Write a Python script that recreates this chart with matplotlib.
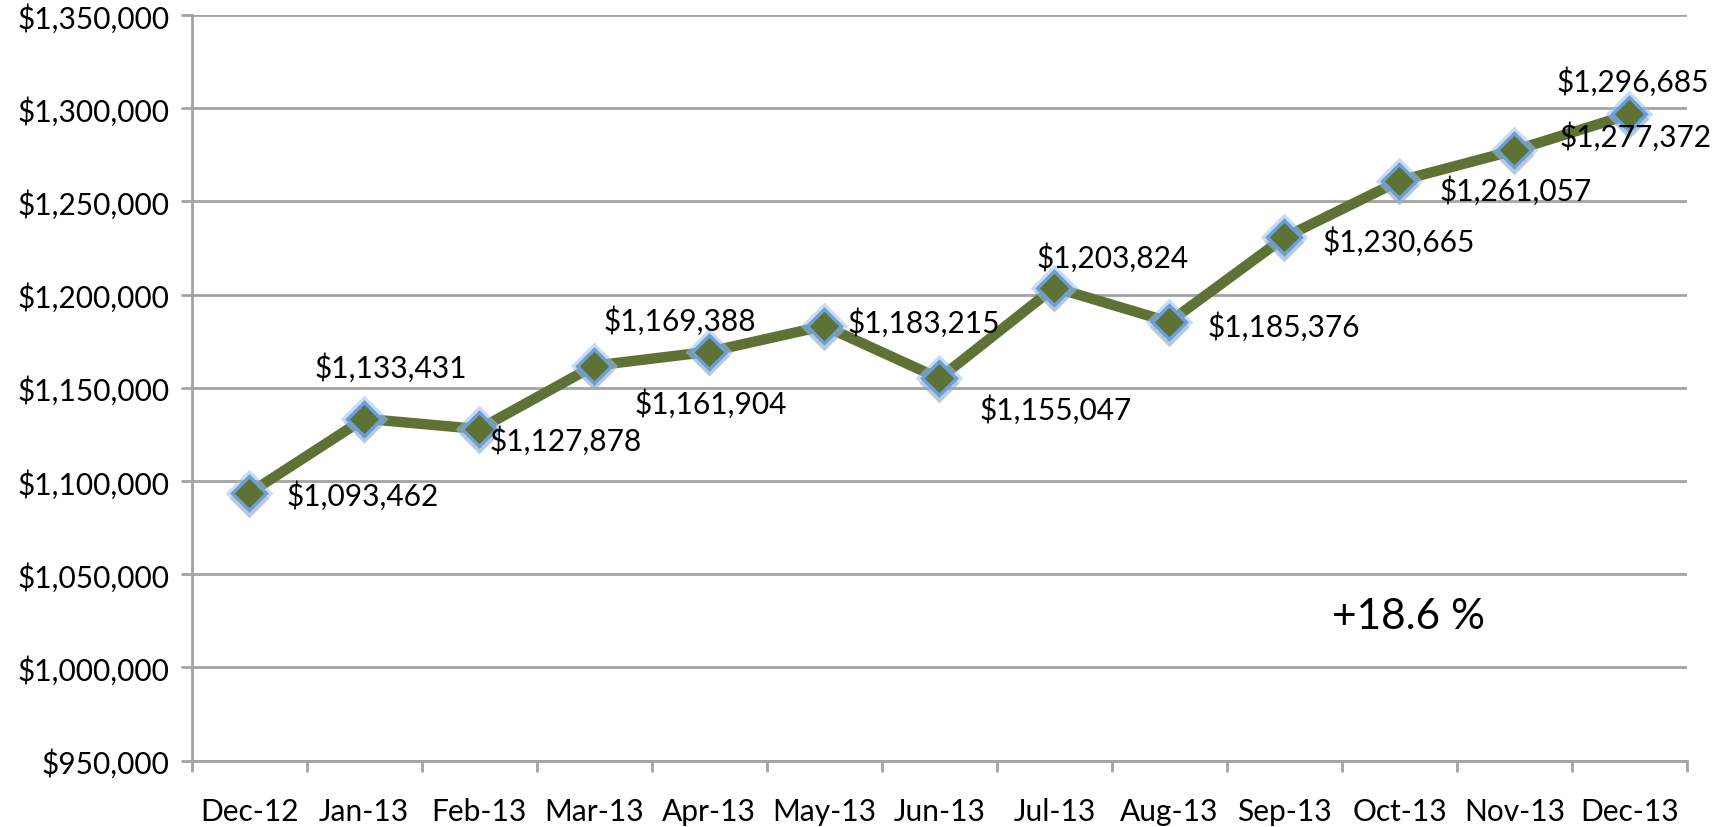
import matplotlib
matplotlib.use("Agg")
import matplotlib.pyplot as plt
from matplotlib.ticker import FuncFormatter, FixedLocator, NullFormatter
import numpy as np

months = ["Dec-12", "Jan-13", "Feb-13", "Mar-13", "Apr-13", "May-13", "Jun-13",
          "Jul-13", "Aug-13", "Sep-13", "Oct-13", "Nov-13", "Dec-13"]
values = [1093462, 1133431, 1127878, 1161904, 1169388, 1183215, 1155047,
          1203824, 1185376, 1230665, 1261057, 1277372, 1296685]
change_text = "+18.6 %"

# label offsets (pixels) relative to each point
label_offsets = [(113, -2), (27, 52), (86, -11), (116, -37), (-29, 32), (99, 4), (116, -30),
                 (58, 31), (114, -4), (114, -3), (116, -9), (121, 14), (3, 33)]

plt.rcParams['font.family'] = ['Lato', 'DejaVu Sans']

fig = plt.figure(figsize=(17.21, 8.28), dpi=100)
ax = fig.add_axes([191.7/1721, 1 - 761.7/828, (1687 - 191.7)/1721, (761.7 - 16)/828])

grid_color = '#a3a3a3'
x = np.arange(len(months))

ax.set_xlim(-0.5, len(months) - 0.5)
ax.set_ylim(950000, 1350000)
ax.set_yticks(np.arange(950000, 1350001, 50000))
ax.yaxis.set_major_formatter(FuncFormatter(lambda v, p: "${:,.0f}".format(v)))
ax.grid(axis='y', color=grid_color, linewidth=2.0)
ax.set_axisbelow(True)

ax.set_xticks(x)
ax.set_xticklabels(months)
ax.tick_params(axis='x', which='major', length=0, pad=26, labelsize=21.5)
ax.xaxis.set_minor_locator(FixedLocator(np.arange(-0.5, len(months), 1.0)))
ax.xaxis.set_minor_formatter(NullFormatter())
ax.tick_params(axis='x', which='minor', length=8, width=2.0, color=grid_color)
ax.tick_params(axis='y', length=8, width=2.0, color=grid_color, pad=8, labelsize=21.5)

for s in ['top', 'right']:
    ax.spines[s].set_visible(False)
for s in ['left', 'bottom']:
    ax.spines[s].set_color(grid_color)
    ax.spines[s].set_linewidth(2.0)

line_color = '#5f7235'
ax.plot(x, values, color=line_color, linewidth=7.5, zorder=3, solid_joinstyle='round')
# soft shadow / glow behind markers
ax.plot(x, np.array(values) - 2500, linestyle='none', marker='D', markersize=20,
        markerfacecolor='#707070', markeredgecolor='none', alpha=0.3, zorder=3.5)
ax.plot(x, values, linestyle='none', marker='D', markersize=19.5,
        markerfacecolor='none', markeredgecolor='#9cc0ea', markeredgewidth=5,
        alpha=0.55, zorder=3.8)
ax.plot(x, values, linestyle='none', marker='D', markersize=17.5,
        markerfacecolor=line_color, markeredgecolor='#6b9fd8', markeredgewidth=2.4,
        zorder=4)

for xi, v, (dx, dy) in zip(x, values, label_offsets):
    ax.annotate("${:,.0f}".format(v), (xi, v), xytext=(dx, dy), textcoords='offset pixels',
                ha='center', va='center', fontsize=21.5, color='black', zorder=5)

ax.text(1408/1721, 1 - 617/828, change_text, transform=fig.transFigure,
        ha='center', va='center', fontsize=30.5, color='black')

fig.savefig("out.png", dpi=100)
